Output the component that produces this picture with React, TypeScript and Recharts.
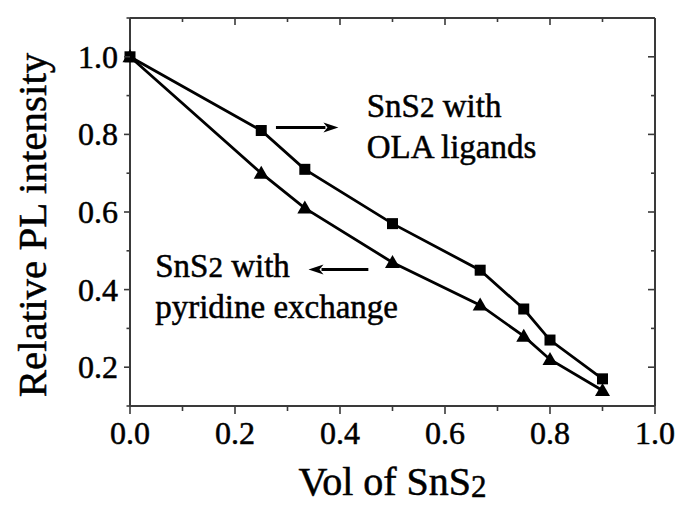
import React from "react";
import {
  LineChart,
  Line,
  XAxis,
  YAxis,
  Label,
  ReferenceLine,
  ReferenceDot,
} from "recharts";

// volume fraction of SnS2 (x) and relative PL intensity for both samples
const volFraction = [0, 0.25, 0.333, 0.5, 0.667, 0.75, 0.8, 0.9];
const olaValues = [1.0, 0.81, 0.71, 0.57, 0.45, 0.35, 0.27, 0.17];
const pyridineValues = [1.0, 0.7, 0.61, 0.47, 0.36, 0.28, 0.22, 0.14];

const xTicks = [0, 0.1, 0.2, 0.3, 0.4, 0.5, 0.6, 0.7, 0.8, 0.9, 1.0];
const yTicks = [0.1, 0.2, 0.3, 0.4, 0.5, 0.6, 0.7, 0.8, 0.9, 1.0, 1.1];

// annotation arrows (data coords) and text blocks
const olaArrow = { from: [0.278, 0.818], to: [0.397, 0.818] };
const pyridineArrow = { from: [0.454, 0.452], to: [0.34, 0.452] };
const olaText = { x: 0.451, y: 0.844, lines: ["SnS|2| with", "OLA ligands"] };
const pyridineText = { x: 0.048, y: 0.432, lines: ["SnS|2| with", "pyridine exchange"] };

const FONT = '"Liberation Serif", "Times New Roman", Times, serif';
const AXIS_COLOR = "#3a3a3a";

// scanned look: text is a bit heavier than plain regular weight
const textStyle = { fontFamily: FONT, fill: "#000", stroke: "#000", strokeWidth: 0.5 };

const data = volFraction.map((x, i) => ({
  x,
  ola: olaValues[i],
  pyr: pyridineValues[i],
}));

const isMajor = (v: number) => Math.round(v * 10) % 2 === 0;

const BottomTick = ({ x, y, payload }: any) => {
  const major = isMajor(payload.value);
  return (
    <g>
      <line x1={x} x2={x} y1={y} y2={y + (major ? 8 : 5)} stroke={AXIS_COLOR} strokeWidth={1.6} />
      {major && (
        <text x={x} y={y + 38} textAnchor="middle" fontSize={32} style={textStyle}>
          {payload.value.toFixed(1)}
        </text>
      )}
    </g>
  );
};

const TopTick = ({ x, y, payload }: any) => {
  const major = isMajor(payload.value);
  return <line x1={x} x2={x} y1={y} y2={y + (major ? 7 : 4)} stroke={AXIS_COLOR} strokeWidth={1.6} />;
};

const LeftTick = ({ x, y, payload }: any) => {
  const v = payload.value;
  const major = isMajor(v);
  const labelled = major && v > 0.15 && v < 1.05;
  return (
    <g>
      <line x1={x - (major ? 6 : 3.5)} x2={x} y1={y} y2={y} stroke={AXIS_COLOR} strokeWidth={1.6} />
      {labelled && (
        <text x={x - 12} y={y + 11} textAnchor="end" fontSize={32} style={textStyle}>
          {v.toFixed(1)}
        </text>
      )}
    </g>
  );
};

const RightTick = ({ x, y, payload }: any) => {
  const major = isMajor(payload.value);
  return <line x1={x - (major ? 7 : 4)} x2={x} y1={y} y2={y} stroke={AXIS_COLOR} strokeWidth={1.6} />;
};

const SquareDot = ({ cx, cy, index }: any) => (
  <rect key={`sq-${index}`} x={cx - 5.5} y={cy - 5.5} width={11} height={11} fill="#000" />
);

const TriangleDot = ({ cx, cy, index }: any) => (
  <polygon
    key={`tr-${index}`}
    points={`${cx},${cy - 7.5} ${cx - 7.5},${cy + 5.5} ${cx + 7.5},${cy + 5.5}`}
    fill="#000"
  />
);

// arrow with a filled head at the (x2, y2) end
const Arrow = ({ x1, y1, x2, y2 }: any) => {
  const dir = x2 > x1 ? 1 : -1;
  const headLen = 15;
  return (
    <g>
      <line x1={x1} y1={y1} x2={x2 - dir * headLen + dir * 2} y2={y2} stroke="#000" strokeWidth={3} />
      <polygon
        points={`${x2},${y2} ${x2 - dir * headLen},${y2 - 5} ${x2 - dir * (headLen - 4)},${y2} ${x2 - dir * headLen},${y2 + 5}`}
        fill="#000"
      />
    </g>
  );
};

// "|" marks the slightly smaller digit inside a line
const renderLine = (line: string) =>
  line.split("|").map((part, i) =>
    i % 2 === 1 ? (
      <tspan key={i} fontSize={29}>
        {part}
      </tspan>
    ) : (
      <tspan key={i}>{part}</tspan>
    )
  );

const TextBlock = (lines: string[]) => ({ cx, cy }: any) => (
  <g>
    {lines.map((line, i) => (
      <text key={i} x={cx} y={cy + i * 41} fontSize={33} style={textStyle}>
        {renderLine(line)}
      </text>
    ))}
  </g>
);

const XTitle = ({ viewBox }: any) => (
  <text
    x={viewBox.x + viewBox.width / 2}
    y={viewBox.y + 89}
    textAnchor="middle"
    fontSize={40}
    style={textStyle}
  >
    Vol of SnS
    <tspan fontSize={31} dy={2}>
      2
    </tspan>
  </text>
);

const YTitle = ({ viewBox }: any) => {
  const cx = 46;
  const cy = viewBox.y + viewBox.height / 2 + 13;
  return (
    <text
      x={cx}
      y={cy}
      transform={`rotate(-90, ${cx}, ${cy})`}
      textAnchor="middle"
      fontSize={41}
      style={textStyle}
    >
      Relative PL intensity
    </text>
  );
};

export default function App() {
  return (
    <div style={{ position: "absolute", left: 0, top: 0, width: 685, height: 515, background: "#fff" }}>
      <LineChart width={685} height={515} data={data} margin={{ top: 0, right: 0, bottom: 0, left: 0 }}>
        <XAxis
          dataKey="x"
          type="number"
          domain={[0, 1]}
          ticks={xTicks}
          height={109}
          tickSize={0}
          tickMargin={0}
          tickLine={false}
          tick={<BottomTick />}
          interval={0}
          axisLine={{ stroke: AXIS_COLOR, strokeWidth: 2 }}
        >
          <Label content={<XTitle />} />
        </XAxis>
        <XAxis
          xAxisId="top"
          orientation="top"
          dataKey="x"
          type="number"
          domain={[0, 1]}
          ticks={xTicks}
          height={18}
          tickSize={0}
          tickMargin={0}
          tickLine={false}
          tick={<TopTick />}
          interval={0}
          axisLine={{ stroke: AXIS_COLOR, strokeWidth: 2 }}
        />
        <YAxis
          type="number"
          domain={[0.1, 1.1]}
          ticks={yTicks}
          width={130}
          tickSize={0}
          tickMargin={0}
          tickLine={false}
          tick={<LeftTick />}
          interval={0}
          allowDataOverflow
          axisLine={{ stroke: AXIS_COLOR, strokeWidth: 2 }}
        >
          <Label content={<YTitle />} />
        </YAxis>
        <YAxis
          yAxisId="right"
          orientation="right"
          type="number"
          domain={[0.1, 1.1]}
          ticks={yTicks}
          width={30}
          tickSize={0}
          tickMargin={0}
          tickLine={false}
          tick={<RightTick />}
          interval={0}
          allowDataOverflow
          axisLine={{ stroke: AXIS_COLOR, strokeWidth: 2 }}
        />
        <Line
          type="linear"
          dataKey="ola"
          stroke="#000"
          strokeWidth={2.8}
          dot={SquareDot}
          isAnimationActive={false}
        />
        <Line
          type="linear"
          dataKey="pyr"
          stroke="#000"
          strokeWidth={2.8}
          dot={TriangleDot}
          isAnimationActive={false}
        />
        <ReferenceLine
          segment={[
            { x: olaArrow.from[0], y: olaArrow.from[1] },
            { x: olaArrow.to[0], y: olaArrow.to[1] },
          ]}
          shape={Arrow}
        />
        <ReferenceLine
          segment={[
            { x: pyridineArrow.from[0], y: pyridineArrow.from[1] },
            { x: pyridineArrow.to[0], y: pyridineArrow.to[1] },
          ]}
          shape={Arrow}
        />
        <ReferenceDot x={olaText.x} y={olaText.y} r={0} shape={TextBlock(olaText.lines)} />
        <ReferenceDot x={pyridineText.x} y={pyridineText.y} r={0} shape={TextBlock(pyridineText.lines)} />
      </LineChart>
    </div>
  );
}
